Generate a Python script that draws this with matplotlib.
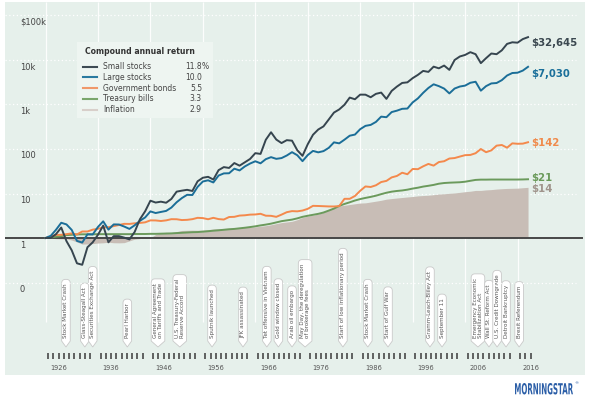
import numpy as np
import matplotlib
matplotlib.use("Agg")
import matplotlib.pyplot as plt
from matplotlib import font_manager as fm
from matplotlib.transforms import offset_copy, Affine2D
from matplotlib.patches import Rectangle, Polygon, PathPatch
from matplotlib.textpath import TextPath

# growth of $1 invested at the end of 1925, year-end values 1925-2017
years = np.arange(1925, 2018)

small_stocks = [
    1.00,                                                               # 1925
    1.00, 1.22, 1.72, 0.85, 0.53, 0.27, 0.25, 0.62, 0.80, 1.18,         # 1926-35
    1.90, 0.80, 1.10, 1.10, 1.02, 0.93, 1.37, 2.63, 3.99, 6.89,         # 1936-45
    6.26, 6.55, 6.20, 7.55, 11.0, 11.6, 12.1, 11.4, 18.8, 22.6,         # 1946-55
    23.7, 20.6, 33.5, 39.2, 37.5, 48.3, 42.2, 50.2, 59.7, 80.6,         # 1956-65
    77.6, 161, 238, 163, 136, 158, 154, 94.0, 70.2, 128,                # 1966-75
    209, 274, 322, 460, 659, 775, 987, 1430, 1312, 1668,                # 1976-85
    1663, 1455, 1735, 1852, 1336, 2021, 2527, 3052, 3147, 3909,         # 1986-95
    4633, 5685, 5407, 7090, 6500, 7500, 6000, 10000, 12000, 13000,      # 1996-2005
    15000, 13500, 8500, 11000, 14000, 13500, 16500, 23000, 25000, 24500,  # 2006-15
    29500, 32645,                                                       # 2016-17
]
large_stocks = [
    1.00,
    1.12, 1.53, 2.20, 2.02, 1.52, 0.86, 0.79, 1.21, 1.20, 1.77,
    2.37, 1.54, 2.02, 2.01, 1.81, 1.60, 1.93, 2.43, 2.90, 3.96,
    3.64, 3.85, 4.06, 4.83, 6.36, 7.89, 9.34, 9.24, 14.1, 18.6,
    19.8, 17.7, 25.3, 28.3, 28.5, 36.1, 33.0, 40.5, 47.1, 53.0,
    47.7, 59.1, 65.6, 60.1, 62.5, 71.4, 84.9, 72.5, 53.3, 73.1,
    90.6, 84.1, 89.6, 106, 141, 134, 162, 199, 211, 279,
    331, 348, 406, 534, 518, 676, 727, 800, 811, 1114,
    1371, 1828, 2351, 2846, 2587, 2279, 1775, 2285, 2534, 2658,
    3077, 3246, 2045, 2587, 2976, 3039, 3525, 4480, 5100, 5180,
    5780, 7030,
]
gov_bonds = [
    1.00,
    1.08, 1.17, 1.18, 1.22, 1.27, 1.20, 1.40, 1.40, 1.54, 1.61,
    1.73, 1.75, 1.85, 1.96, 2.08, 2.07, 2.14, 2.18, 2.25, 2.49,
    2.48, 2.41, 2.49, 2.65, 2.64, 2.53, 2.56, 2.65, 2.84, 2.80,
    2.64, 2.84, 2.66, 2.60, 2.96, 2.99, 3.19, 3.24, 3.35, 3.38,
    3.50, 3.17, 3.15, 2.99, 3.35, 3.80, 4.02, 3.97, 4.14, 4.52,
    5.28, 5.24, 5.18, 5.12, 5.11, 5.21, 7.60, 7.60, 8.80, 11.5,
    14.4, 14.0, 15.3, 18.1, 19.2, 23.0, 24.8, 29.3, 27.1, 35.6,
    35.2, 40.8, 46.2, 42.3, 50.9, 53.1, 61.1, 62.6, 67.6, 72.7,
    73.5, 80.4, 100, 84.7, 93.2, 119, 123, 107, 134, 131,
    132, 142,
]
treasury_bills = [
    1.00,
    1.03, 1.07, 1.10, 1.16, 1.18, 1.20, 1.21, 1.21, 1.21, 1.22,
    1.22, 1.22, 1.22, 1.22, 1.22, 1.22, 1.23, 1.23, 1.23, 1.24,
    1.24, 1.25, 1.26, 1.27, 1.29, 1.31, 1.33, 1.35, 1.36, 1.39,
    1.42, 1.46, 1.49, 1.53, 1.57, 1.60, 1.65, 1.70, 1.76, 1.83,
    1.92, 2.00, 2.10, 2.24, 2.39, 2.49, 2.59, 2.76, 2.99, 3.16,
    3.32, 3.49, 3.74, 4.13, 4.59, 5.27, 5.82, 6.34, 6.96, 7.50,
    7.96, 8.39, 8.93, 9.67, 10.4, 11.0, 11.4, 11.7, 12.2, 12.9,
    13.5, 14.3, 14.9, 15.6, 16.6, 17.2, 17.5, 17.7, 17.9, 18.4,
    19.3, 20.2, 20.5, 20.5, 20.6, 20.6, 20.6, 20.6, 20.6, 20.6,
    20.7, 20.9,
]
inflation = [
    1.00,
    0.985, 0.964, 0.955, 0.957, 0.899, 0.814, 0.730, 0.734, 0.749, 0.771,
    0.780, 0.804, 0.782, 0.778, 0.786, 0.862, 0.942, 0.972, 0.993, 1.015,
    1.199, 1.307, 1.343, 1.318, 1.395, 1.477, 1.490, 1.499, 1.492, 1.498,
    1.541, 1.587, 1.615, 1.639, 1.663, 1.674, 1.695, 1.723, 1.743, 1.777,
    1.836, 1.892, 1.981, 2.102, 2.218, 2.292, 2.371, 2.579, 2.894, 3.097,
    3.246, 3.466, 3.778, 4.281, 4.812, 5.242, 5.445, 5.652, 5.875, 6.097,
    6.166, 6.438, 6.722, 7.034, 7.464, 7.693, 7.916, 8.133, 8.351, 8.563,
    8.847, 9.001, 9.145, 9.390, 9.707, 9.857, 10.09, 10.28, 10.62, 10.98,
    11.26, 11.72, 11.73, 12.05, 12.23, 12.59, 12.81, 13.00, 13.09, 13.19,
    13.47, 13.76,
]

series_names = ["Small stocks", "Large stocks", "Government bonds", "Treasury bills", "Inflation"]
annual_returns = ["11.8", "10.0", "5.5", "3.3", "2.9"]
end_labels = ["$32,645", "$7,030", "$142", "$21", "$14"]

y_ticks = [0.1, 1, 10, 100, 1000, 10000, 100000]
y_tick_labels = ["0", "1", "10", "100", "1k", "10k", "$100k"]
decades = np.arange(1926, 2017, 10)

events = [
    (1929.9, "Stock Market Crash"),
    (1933.5, "Glass-Steagall Act"),
    (1935.0, "Securities Exchange Act"),
    (1941.6, "Pearl Harbor"),
    (1947.45, "General Agreement\non Tariffs and Trade"),
    (1951.6, "U.S. Treasury-Federal\nReserve Accord"),
    (1957.75, "Sputnik launched"),
    (1963.65, "JFK assassinated"),
    (1968.2, "Tet offensive in Vietnam"),
    (1970.4, "Gold window closed"),
    (1973.0, "Arab oil embargo"),
    (1975.5, "May Day, the deregulation\nof brokerage fees"),
    (1982.7, "Start of low inflationary period"),
    (1987.45, "Stock Market Crash"),
    (1991.3, "Start of Gulf War"),
    (1999.3, "Gramm-Leach-Bliley Act"),
    (2001.6, "September 11"),
    (2008.45, "Emergency Economic\nStabilization Act"),
    (2010.55, "Wall St. Reform Act"),
    (2012.1, "U.S. Credit Downgrade"),
    (2013.8, "Detroit Bankruptcy"),
    (2016.3, "Brexit Referendum"),
]

# colours
PANEL = "#e6f0eb"
LEGEND_BG = "#eef5f1"
line_colors = ["#36454f", "#1b6e98", "#f4894c", "#6b9a5c"]
infl_fill = "#c8bdb6"
label_colors = ["#3b4850", "#1a6f9a", "#f08a4b", "#6a9a5a", "#a0948c"]
legend_colors = ["#3d4b53", "#2a7aa0", "#f0986a", "#7aa66c", "#d8cfca"]
LOGO_BLUE = "#2b5ea7"

names = {f.name for f in fm.fontManager.ttflist}
NARROW = "Liberation Sans Narrow" if "Liberation Sans Narrow" in names else "DejaVu Sans"

W, H = 590, 403
fig = plt.figure(figsize=(W / 100, H / 100), dpi=100)
fig.patch.set_facecolor("white")

# panel in pixels: left, top, right, bottom
pl, pt, pr, pb = 5, 2, 585, 375
rect = [pl / W, 1 - pb / H, (pr - pl) / W, (pb - pt) / H]

# x scale: 1926.0 at px 45.5, 5.245 px per year
px_year0, px_per_year = 45.5, 5.245
xlim = (1926 + (pl - px_year0) / px_per_year, 1926 + (pr - px_year0) / px_per_year)
# y scale: $1 at row 238, 44.5 px per decade
row_one, px_per_dec = 238, 44.5
ylim = (10 ** ((row_one - pb) / px_per_dec), 10 ** ((row_one - pt) / px_per_dec))

canvas = fig.add_axes([0, 0, 1, 1], zorder=0)
canvas.set_xlim(0, W)
canvas.set_ylim(H, 0)
canvas.axis("off")
canvas.add_patch(Rectangle((pl, pt), pr - pl, pb - pt, facecolor=PANEL, lw=0))

# timeline strip: x in years, y in pixel rows
tl = fig.add_axes(rect, zorder=1)
tl.set_xlim(*xlim)
tl.set_ylim(pb, pt)
tl.axis("off")
tl.patch.set_alpha(0)

tl.vlines(decades, pt, 322, color="white", lw=0.9, alpha=0.9)
tick_years = [y + 0.5 for y in range(1926, 2019) if (y - 1926) % 10 != 9]
tl.vlines(tick_years, 353, 358.5, color="#3a3a3a", lw=1.1)
for d in decades:
    tl.text(d + 2.5, 368, str(d), ha="center", va="center", fontsize=4.8, color="#555555")

renderer = fig.canvas.get_renderer()
for i, (t, label) in enumerate(events):
    z = 2 + i * 0.1
    txt = tl.text(t, 338, label, rotation=90, ha="center", va="bottom", fontsize=4.5,
                  family=NARROW, fontstretch="condensed", color="#555555",
                  multialignment="left", linespacing=1.0, zorder=z + 0.05)
    bb = txt.get_window_extent(renderer)
    xc = tl.transData.transform((t, 341))[0]
    ybase = tl.transData.transform((t, 341))[1]
    ytip = tl.transData.transform((t, 347))[1]
    x0, x1, ytop = bb.x0 - 1.8, bb.x1 + 1.8, bb.y1 + 4
    r = 3.5
    pts = [(x0, ybase), (x0, ytop - r)]
    for a in np.linspace(np.pi, np.pi / 2, 6):
        pts.append((x0 + r + r * np.cos(a), ytop - r + r * np.sin(a)))
    for a in np.linspace(np.pi / 2, 0, 6):
        pts.append((x1 - r + r * np.cos(a), ytop - r + r * np.sin(a)))
    pts += [(x1, ybase), (xc, ytip)]
    pts = tl.transData.inverted().transform(pts)
    tl.add_patch(Polygon(pts, closed=True, facecolor="white", edgecolor="#c9c9c9",
                         lw=0.6, zorder=z))

# main data axes
ax = fig.add_axes(rect, zorder=2)
ax.set_yscale("log")
ax.set_xlim(*xlim)
ax.set_ylim(*ylim)
ax.axis("off")
ax.patch.set_alpha(0)

for v in y_ticks:
    ax.axhline(v, xmin=0, xmax=0.985, color="white", lw=0.9, ls=(0, (1, 2)), zorder=0.5)

x = years + 1
ax.fill_between(x, inflation, 1, color=infl_fill, lw=0, zorder=1)
ax.axhline(1, xmin=0, xmax=(582 - pl) / (pr - pl), color="#474747", lw=1.4, zorder=1.5)
for vals, c, z in zip([treasury_bills, gov_bonds, large_stocks, small_stocks],
                      line_colors[::-1], [2, 3, 4, 5]):
    ax.plot(x, vals, color=c, lw=1.4, zorder=z, solid_joinstyle="round")

series = [small_stocks, large_stocks, gov_bonds, treasury_bills, inflation]
label_dy = [-6, -7, -1, 1, -2]
for vals, lab, c, dy in zip(series, end_labels, label_colors, label_dy):
    ax.text(2018.6, vals[-1], lab, ha="left", va="center", fontsize=7.3, fontweight="bold",
            color=c, transform=offset_copy(ax.transData, fig=fig, y=dy, units="dots"))

ytr = offset_copy(ax.get_yaxis_transform(), fig=fig, y=-7, units="dots")
for v, lab in zip(y_ticks, y_tick_labels):
    ax.text((20 - pl) / (pr - pl), v, lab, ha="left", va="center", fontsize=6,
            color="#444444", transform=ytr)

# legend and logo on a pixel canvas on top
top = fig.add_axes([0, 0, 1, 1], zorder=3)
top.set_xlim(0, W)
top.set_ylim(H, 0)
top.axis("off")
top.patch.set_alpha(0)
top.add_patch(Rectangle((77, 42), 136, 76, facecolor=LEGEND_BG, lw=0))
top.text(85, 51, "Compound annual return", fontsize=5.6, fontweight="bold",
         color="#333333", va="center", ha="left")
for i, (name, ret, c) in enumerate(zip(series_names, annual_returns, legend_colors)):
    row = 66.5 + i * 10.8
    top.plot([83, 97], [row, row], color=c, lw=1.5)
    top.text(103, row, name, fontsize=5.5, color="#444444", va="center", ha="left")
    top.text(202, row, ret, fontsize=5.5, color="#444444", va="center", ha="right")
    if i == 0:
        top.text(202, row, "%", fontsize=5.5, color="#444444", va="center", ha="left")

# condensed logo: text outline squeezed to the reference's width
logo = TextPath((0, 0), "MORNINGSTAR", size=10, prop=fm.FontProperties(family="DejaVu Sans", weight="bold"))
ext = logo.get_extents()
sx = 58 / ext.width
sy = 11.5 / ext.height
logo_tr = Affine2D().translate(-ext.x0, -ext.y0).scale(sx, -sy).translate(515, 394.5)
top.add_patch(PathPatch(logo_tr.transform_path(logo), facecolor=LOGO_BLUE, lw=0))
top.text(574.5, 383, "\u00ae", fontsize=3.2, color=LOGO_BLUE, va="center", ha="left")

fig.savefig("out.png", dpi=100, facecolor="white")
